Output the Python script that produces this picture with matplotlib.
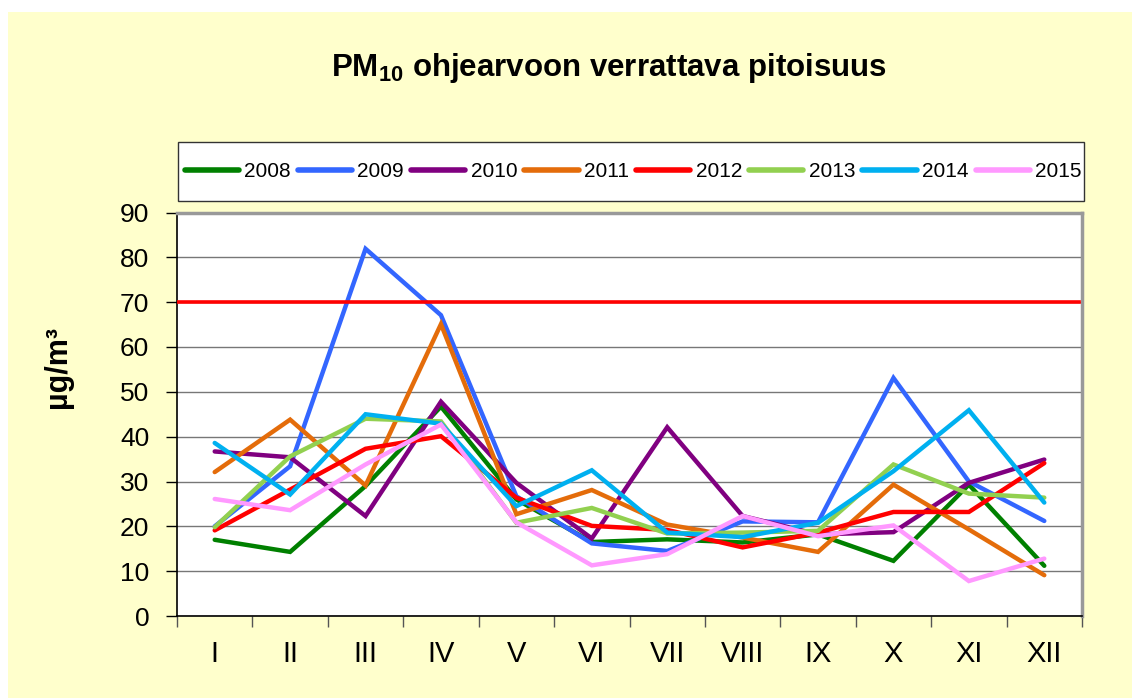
import matplotlib
matplotlib.use("Agg")
import matplotlib.pyplot as plt
from matplotlib.patches import Rectangle

plt.rcParams['font.family'] = ['Liberation Sans', 'DejaVu Sans']
plt.rcParams['mathtext.fontset'] = 'custom'
plt.rcParams['mathtext.rm'] = 'Liberation Sans:bold'
plt.rcParams['mathtext.bf'] = 'Liberation Sans:bold'
plt.rcParams['mathtext.default'] = 'bf'

months = ["I", "II", "III", "IV", "V", "VI", "VII", "VIII", "IX", "X", "XI", "XII"]
y2008 = [17, 14.3, 29, 46.7, 26, 16.5, 17.1, 16.4, 18.2, 12.3, 29.3, 11.2]
y2009 = [20, 33.4, 81.9, 67.1, 26.7, 16.2, 14.5, 21.1, 20.9, 53.1, 30, 21.2]
y2010 = [36.7, 35.4, 22.3, 47.8, 29.7, 17.3, 42.1, 22.3, 18.2, 18.7, 29.7, 34.9]
y2011 = [32.1, 43.8, 29.1, 65.1, 22.7, 28.1, 20.4, 17.5, 14.3, 29.3, 19.3, 9.1]
y2012 = [19.1, 28.2, 37.3, 40.1, 26.4, 20.1, 19.2, 15.3, 18.6, 23.2, 23.2, 34.1]
y2013 = [19.8, 35.6, 44.0, 43.4, 20.8, 24.1, 18.4, 18.6, 19.0, 33.8, 27.3, 26.4]
y2014 = [38.6, 27.1, 45.0, 42.9, 24.5, 32.5, 18.6, 17.6, 20.8, 32.3, 45.9, 25.3]
y2015 = [26.1, 23.6, 33.8, 42.7, 20.9, 11.3, 13.8, 22.3, 17.8, 20.2, 7.8, 12.8]
years = ["2008", "2009", "2010", "2011", "2012", "2013", "2014", "2015"]
limit_value = 70

series = [y2008, y2009, y2010, y2011, y2012, y2013, y2014, y2015]
colors = ["#008000", "#3366FF", "#800080", "#E46C0A", "#FF0000", "#92D050", "#00B0F0", "#FF99FF"]

W, H = 1132, 698
fig = plt.figure(figsize=(W / 100, H / 100), dpi=100)
fig.patch.set_facecolor("white")
fig.patches.append(Rectangle((8 / W, 0), 1 - 8 / W, 1 - 12 / H, transform=fig.transFigure,
                             facecolor="#FFFFCC", edgecolor="none", zorder=-10))
# legend frame box
fig.patches.append(Rectangle((178 / W, 1 - 201 / H), (1084 - 178) / W, (201 - 142) / H,
                             transform=fig.transFigure, facecolor="white",
                             edgecolor="#333333", lw=1.0, zorder=-5))

L, R, T, B = 177, 1082, 212.5, 616
ax = fig.add_axes([L / W, 1 - B / H, (R - L) / W, (B - T) / H])
ax.set_facecolor("white")

x = list(range(len(months)))
handles = []
for yr, vals, c in zip(years, series, colors):
    h, = ax.plot(x, vals, color=c, lw=3.2, label=yr, solid_joinstyle="miter", solid_capstyle="round")
    handles.append(h)
ax.axhline(limit_value, color="#FF0000", lw=2.6, zorder=5, xmax=0.997)

ax.set_xlim(-0.5, len(months) - 0.5)
ax.set_ylim(0, 90)
ax.set_yticks(range(0, 91, 10))
ax.set_xticks(x)
ax.set_xticklabels(months)
ax.set_xticks([i - 0.5 for i in range(len(months) + 1)], minor=True)
ax.tick_params(axis="x", which="major", length=0, pad=17, labelsize=21)
ax.tick_params(axis="x", which="minor", length=8, width=1, color="#555555", direction="out")
ax.tick_params(axis="y", which="major", length=8, width=1, direction="out", pad=12, labelsize=19)
ax.yaxis.grid(True, color="#777777", lw=1)
ax.set_axisbelow(True)

for s in ["top", "right"]:
    ax.spines[s].set_color("#999999")
    ax.spines[s].set_linewidth(2.5)
for s in ["left", "bottom"]:
    ax.spines[s].set_color("black")
    ax.spines[s].set_linewidth(1.2)

fig.text(609 / W, 1 - 68 / H, r"PM$_{10}$ ohjearvoon verrattava pitoisuus",
         ha="center", va="center", fontsize=22.5, fontweight="bold")
fig.text(58 / W, 1 - 367 / H, "µg/m³", rotation=90, ha="center", va="center",
         fontsize=22, fontweight="bold")

leg = fig.legend(handles=handles, loc="center", ncol=8,
                 bbox_to_anchor=(633 / W, 1 - 171.5 / H), fontsize=15,
                 handlelength=2.6, handletextpad=0.25, columnspacing=0.35,
                 borderpad=0, frameon=False, borderaxespad=0)
for lh in leg.get_lines():
    lh.set_linewidth(4)

fig.savefig("out.png", dpi=100, facecolor=fig.get_facecolor())
